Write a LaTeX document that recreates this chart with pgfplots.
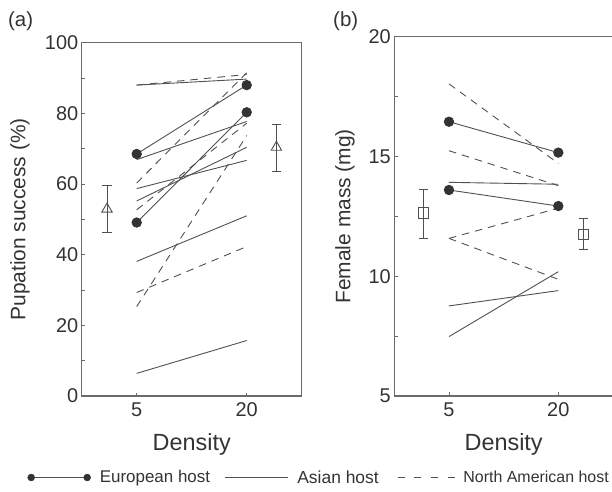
\documentclass[border=0pt]{standalone}
\usepackage{fontspec}
\setmainfont{Liberation Sans}
\usepackage{pgfplots}
\pgfplotsset{compat=1.18}

\definecolor{ink}{HTML}{505050}
\definecolor{frame}{HTML}{6B6B6B}
\definecolor{dot}{HTML}{333333}
\definecolor{txt}{HTML}{333333}

\pgfplotsset{
  panel/.style={
    scale only axis, anchor=south west, clip=false,
    xmin=0.5, xmax=2.5, xtick={1,2}, xticklabels={5,20},
    axis line style={frame, line width=1.1bp},
    tick style={frame, line width=0.9bp},
    tick align=inside, major tick length=3.5bp, minor tick length=3.5bp,
    xtick pos=bottom, ytick pos=left,
    ticklabel style={font=\fontsize{20}{22}\selectfont, text=txt},
    xticklabel style={yshift=-3bp},
    /pgf/number format/assume math mode=true,
    label style={text=txt},
    xlabel style={font=\fontsize{23.5}{26}\selectfont, anchor=center},
    ylabel style={font=\fontsize{21}{24}\selectfont, anchor=center},
  },
  eur/.style={forget plot, ink, line width=0.9bp, mark=*, mark size=4.7bp,
    mark options={fill=dot, draw=dot}},
  asi/.style={forget plot, ink, line width=0.9bp, no marks},
  nam/.style={forget plot, ink, line width=0.9bp, no marks, dash pattern=on 7.5bp off 6bp},
  mean/.style={forget plot, ink, line width=0.9bp, only marks,
    mark options={fill=white, draw=ink, solid},
    error bars/y dir=both, error bars/y explicit,
    error bars/error bar style={ink, line width=0.9bp},
    error bars/error mark options={rotate=90, ink, line width=0.9bp, mark size=4.5bp}},
}

\begin{document}
\begin{tikzpicture}

% (a) pupation success
\begin{axis}[panel, at={(81.7bp,96bp)}, width=220bp, height=353.3bp,
  ymin=0, ymax=100, ytick={0,20,...,100}, minor ytick={10,30,...,90},
  xlabel={Density}, ylabel={Pupation success (\%)},
  xlabel style={at={(axis description cs:0.5,-0.1373)}},
  ylabel style={at={(axis description cs:-0.2805,0.5)}},
  legend columns=3, legend cell align=left,
  legend style={at={(rel axis cs:-0.2464,-0.2307)}, anchor=west,
    draw=none, fill=none, inner sep=0bp, outer sep=0bp,
    nodes={inner sep=0bp}, text=txt,
    /tikz/column 1/.style={column sep=9bp},
    /tikz/column 2/.style={column sep=14.4bp},
    /tikz/column 3/.style={column sep=9bp},
    /tikz/column 4/.style={column sep=18.3bp},
    /tikz/column 5/.style={column sep=8.5bp}},
]
% European host
\addplot[eur] coordinates {(1,68.5) (2,88.0)};
\addplot[eur] coordinates {(1,49.1) (2,80.3)};
% Asian host
\addplot[asi] coordinates {(1,88.0) (2,89.7)};
\addplot[asi] coordinates {(1,66.9) (2,77.7)};
\addplot[asi] coordinates {(1,58.7) (2,66.7)};
\addplot[asi] coordinates {(1,55.2) (2,70.4)};
\addplot[asi] coordinates {(1,38.1) (2,51.0)};
\addplot[asi] coordinates {(1,6.4) (2,15.7)};
% North American host
\addplot[nam] coordinates {(1,88.0) (2,91.0)};
\addplot[nam] coordinates {(1,60.3) (2,91.5)};
\addplot[nam] coordinates {(1,52.7) (2,77.2)};
\addplot[nam] coordinates {(1,29.3) (2,42.3)};
\addplot[nam] coordinates {(1,25.3) (2,73.7)};
% means
\addplot[mean, mark=triangle, mark size=6bp] coordinates {
  (0.73,52.9) += (0,6.6) -= (0,6.5)
  (2.27,70.4) += (0,6.5) -= (0,6.8)};

\addlegendimage{legend image code/.code={
  \draw[ink, line width=0.9bp] (0bp,0bp) -- (56bp,0bp);
  \fill[dot] (0bp,0bp) circle (3.5bp);
  \fill[dot] (56bp,0bp) circle (3.5bp);}}
\addlegendentry[font=\fontsize{17}{19}\selectfont]{European host}
\addlegendimage{legend image code/.code={
  \draw[ink, line width=0.9bp] (0bp,0bp) -- (63bp,0bp);}}
\addlegendentry[font=\fontsize{17.5}{19}\selectfont]{Asian host}
\addlegendimage{legend image code/.code={
  \draw[ink, line width=0.9bp, dash pattern=on 7bp off 9.7bp] (0bp,0bp) -- (57bp,0bp);}}
\addlegendentry[font=\fontsize{16}{18}\selectfont]{North American host}
\end{axis}

% (b) female mass
\begin{axis}[panel, at={(394.3bp,96bp)}, width=218.7bp, height=359.3bp,
  ymin=5, ymax=20, ytick={5,10,15,20}, minor ytick={7.5,12.5,17.5},
  xlabel={Density}, ylabel={Female mass (mg)},
  xlabel style={at={(axis description cs:0.5,-0.135)}},
  ylabel style={at={(axis description cs:-0.2254,0.5)}},
]
\addplot[eur] coordinates {(1,16.45) (2,15.16)};
\addplot[eur] coordinates {(1,13.60) (2,12.93)};
\addplot[asi] coordinates {(1,13.92) (2,13.84)};
\addplot[asi] coordinates {(1,8.76) (2,9.40)};
\addplot[asi] coordinates {(1,7.48) (2,10.19)};
\addplot[nam] coordinates {(1,18.03) (2,14.71)};
\addplot[nam] coordinates {(1,15.24) (2,13.78)};
\addplot[nam] coordinates {(1,11.58) (2,12.84)};
\addplot[nam] coordinates {(1,11.58) (2,9.87)};
\addplot[mean, mark=square, mark size=5.3bp] coordinates {
  (0.765,12.63) += (0,1.01) -= (0,1.05)
  (2.23,11.75) += (0,0.67) -= (0,0.63)};
\end{axis}

\node[anchor=west, inner sep=0bp, text=txt, font=\fontsize{20.5}{22}\selectfont] at (8bp,471bp) {(a)};
\node[anchor=west, inner sep=0bp, text=txt, font=\fontsize{20.5}{22}\selectfont] at (333bp,471bp) {(b)};

\pgfresetboundingbox
\useasboundingbox (0bp,0bp) rectangle (612bp,492bp);
\end{tikzpicture}
\end{document}
